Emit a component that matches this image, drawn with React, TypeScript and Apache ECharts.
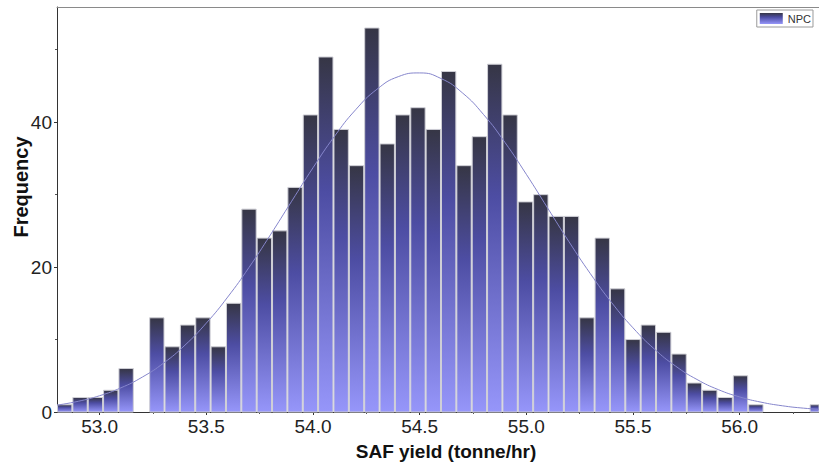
import React, { useEffect, useRef } from "react";
import * as echarts from "echarts";

// Histogram of SAF yield (tonne/hr), 50 bins starting at 52.8 with width 0.072
const binStart = 52.8;
const binWidth = 0.072;
const counts = [
  1, 2, 2, 3, 6, 0, 13, 9, 12, 13,
  9, 15, 28, 24, 25, 31, 41, 49, 39, 34,
  53, 37, 41, 42, 39, 47, 34, 38, 48, 41,
  29, 30, 27, 27, 13, 24, 17, 10, 12, 11,
  8, 4, 3, 2, 5, 1, 0, 0, 0, 1,
];

// Normal fit curve
const curveX = [
  52.8, 52.9, 53.0, 53.1, 53.2, 53.3, 53.4, 53.5, 53.6, 53.7,
  53.8, 53.9, 54.0, 54.1, 54.2, 54.3, 54.4, 54.5, 54.6, 54.7,
  54.8, 54.9, 55.0, 55.1, 55.2, 55.3, 55.4, 55.5, 55.6, 55.7,
  55.8, 55.9, 56.0, 56.1, 56.2, 56.3, 56.4,
];
const curveY = [
  0.95, 1.48, 2.25, 3.34, 4.82, 6.76, 9.23, 12.27, 15.86, 19.95,
  24.43, 29.09, 33.71, 38.02, 41.72, 44.55, 46.29, 46.8, 46.03, 44.06,
  41.04, 37.2, 32.81, 28.15, 23.5, 19.1, 15.1, 11.62, 8.7, 6.33,
  4.49, 3.09, 2.08, 1.36, 0.86, 0.53, 0.32,
];

const xTickLabels = [53.0, 53.5, 54.0, 54.5, 55.0, 55.5, 56.0];
const xMinorTicks = [53.25, 53.75, 54.25, 54.75, 55.25, 55.75, 56.25];
const yTickLabels = [0, 20, 40];
const yMinorTicks = [10, 30, 50];

const seriesName = "NPC";
const xTitle = "SAF yield (tonne/hr)";
const yTitle = "Frequency";

const FONT = "'Liberation Sans', Arial, Helvetica, sans-serif";

export default function App() {
  const ref = useRef<HTMLDivElement>(null);

  useEffect(() => {
    if (!ref.current) return;
    const chart = echarts.init(ref.current, undefined, { renderer: "svg" });

    const barGradient = () =>
      new echarts.graphic.LinearGradient(0, 0, 0, 1, [
        { offset: 0, color: "#363645" },
        { offset: 0.38, color: "#4d4da3" },
        { offset: 1, color: "#9696fa" },
      ]);

    const binData = counts.map((c, i) => [
      binStart + i * binWidth,
      binStart + (i + 1) * binWidth,
      c,
    ]);

    const xMin = 52.8;
    const xMax = 56.372;
    const yMax = 55.9;

    const option: any = {
      animation: false,
      backgroundColor: "#ffffff",
      textStyle: { fontFamily: FONT },
      grid: { left: 57, right: 0, top: 7, bottom: 56, show: false },
      legend: {
        right: 6,
        top: 10,
        padding: [3, 2, 3, 3],
        borderColor: "#9a9a9a",
        borderWidth: 1,
        borderRadius: 0,
        itemWidth: 23,
        itemHeight: 11,
        textStyle: { fontSize: 11, color: "#333", fontFamily: FONT },
        data: [
          {
            name: seriesName,
            icon: "rect",
            itemStyle: { color: barGradient(), borderWidth: 0 },
          },
        ],
      },
      xAxis: [
        {
          type: "value",
          min: xMin,
          max: xMax,
          position: "bottom",
          axisLine: { show: true, lineStyle: { color: "#333", width: 1 } },
          axisTick: {
            show: true,
            length: 3,
            customValues: xTickLabels,
            lineStyle: { color: "#333" },
          },
          axisLabel: {
            show: true,
            customValues: xTickLabels,
            formatter: (v: number) => v.toFixed(1),
            fontSize: 19,
            color: "#222",
            margin: 5,
            fontFamily: FONT,
          },
          splitLine: { show: false },
        },
        {
          type: "value",
          min: xMin,
          max: xMax,
          position: "bottom",
          axisLine: { show: false },
          axisTick: {
            show: true,
            length: 2,
            customValues: xMinorTicks,
            lineStyle: { color: "#555" },
          },
          axisLabel: { show: false },
          splitLine: { show: false },
        },
        {
          type: "value",
          min: xMin,
          max: xMax,
          position: "top",
          axisLine: { show: true, lineStyle: { color: "#8a8a8a", width: 1 } },
          axisTick: { show: false },
          axisLabel: { show: false },
          splitLine: { show: false },
        },
      ],
      yAxis: [
        {
          type: "value",
          min: 0,
          max: yMax,
          position: "left",
          axisLine: { show: true, lineStyle: { color: "#333", width: 1 } },
          axisTick: {
            show: true,
            length: 3,
            customValues: yTickLabels,
            lineStyle: { color: "#333" },
          },
          axisLabel: {
            show: true,
            customValues: yTickLabels,
            fontSize: 19,
            color: "#222",
            margin: 5,
            fontFamily: FONT,
          },
          splitLine: { show: false },
        },
        {
          type: "value",
          min: 0,
          max: yMax,
          position: "left",
          axisLine: { show: false },
          axisTick: {
            show: true,
            length: 2,
            customValues: yMinorTicks,
            lineStyle: { color: "#555" },
          },
          axisLabel: { show: false },
          splitLine: { show: false },
        },
      ],
      graphic: [
        {
          type: "text",
          x: 21,
          y: 187,
          rotation: Math.PI / 2,
          style: {
            text: yTitle,
            fontSize: 20,
            fontWeight: "bold",
            fill: "#111",
            fontFamily: FONT,
            align: "center",
            verticalAlign: "middle",
          },
        },
        {
          type: "text",
          x: 446,
          y: 451,
          style: {
            text: xTitle,
            fontSize: 19,
            fontWeight: "bold",
            fill: "#111",
            fontFamily: FONT,
            align: "center",
            verticalAlign: "middle",
          },
        },
      ],
      series: [
        {
          name: seriesName,
          type: "custom",
          xAxisIndex: 0,
          yAxisIndex: 0,
          itemStyle: { color: barGradient() },
          encode: { x: [0, 1], y: 2 },
          data: binData,
          renderItem: (params: any, api: any) => {
            const x0 = api.value(0);
            const x1 = api.value(1);
            const h = api.value(2);
            if (!h) return null;
            const pTop = api.coord([x0, h]);
            const pBot = api.coord([x1, 0]);
            const shape = echarts.graphic.clipRectByRect(
              {
                x: pTop[0] + 0.5,
                y: pTop[1],
                width: pBot[0] - pTop[0] - 1,
                height: pBot[1] - pTop[1],
              },
              {
                x: params.coordSys.x,
                y: params.coordSys.y,
                width: params.coordSys.width,
                height: params.coordSys.height,
              }
            );
            if (!shape) return null;
            return {
              type: "rect",
              shape,
              style: {
                fill: barGradient(),
                stroke: "#cfcfd6",
                lineWidth: 1,
              },
            };
          },
          z: 2,
        },
        {
          name: "fit",
          type: "line",
          xAxisIndex: 0,
          yAxisIndex: 0,
          data: curveX.map((x, i) => [x, curveY[i]]),
          smooth: true,
          symbol: "none",
          clip: true,
          lineStyle: { color: "#8686cc", width: 1 },
          z: 3,
        },
      ],
    };

    chart.setOption(option);
    return () => chart.dispose();
  }, []);

  return (
    <div
      ref={ref}
      style={{ position: "fixed", left: 0, top: 0, width: 819, height: 468 }}
    />
  );
}
